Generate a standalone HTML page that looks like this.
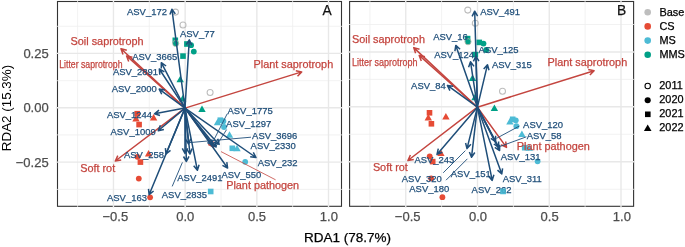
<!DOCTYPE html>
<html lang="en"><head><meta charset="utf-8"><title>RDA biplot</title>
<style>html,body{margin:0;padding:0;background:#fff}body{width:685px;height:247px;overflow:hidden}svg{display:block}svg text{font-family:"Liberation Sans",Arial,Helvetica,sans-serif}</style>
</head><body>
<svg width="685" height="247" viewBox="0 0 685 247">
<rect width="685" height="247" fill="#fff"/>
<rect x="57.5" y="1.5" width="284.00" height="204.80" fill="#fff" stroke="#333" stroke-width="1.1"/>
<line x1="77.6" y1="0.9" x2="77.6" y2="206.9" stroke="#efefef" stroke-width="0.8"/>
<line x1="149.3" y1="0.9" x2="149.3" y2="206.9" stroke="#efefef" stroke-width="0.8"/>
<line x1="221.0" y1="0.9" x2="221.0" y2="206.9" stroke="#efefef" stroke-width="0.8"/>
<line x1="292.65" y1="0.9" x2="292.65" y2="206.9" stroke="#efefef" stroke-width="0.8"/>
<line x1="56.9" y1="26.3" x2="342.1" y2="26.3" stroke="#efefef" stroke-width="0.8"/>
<line x1="56.9" y1="80.7" x2="342.1" y2="80.7" stroke="#efefef" stroke-width="0.8"/>
<line x1="56.9" y1="134.9" x2="342.1" y2="134.9" stroke="#efefef" stroke-width="0.8"/>
<line x1="56.9" y1="189.4" x2="342.1" y2="189.4" stroke="#efefef" stroke-width="0.8"/>
<line x1="113.45" y1="0.9" x2="113.45" y2="207.70000000000002" stroke="#e8e8e8" stroke-width="1.4"/>
<line x1="185.15" y1="0.9" x2="185.15" y2="207.70000000000002" stroke="#e8e8e8" stroke-width="1.4"/>
<line x1="256.85" y1="0.9" x2="256.85" y2="207.70000000000002" stroke="#e8e8e8" stroke-width="1.4"/>
<line x1="328.5" y1="0.9" x2="328.5" y2="207.70000000000002" stroke="#e8e8e8" stroke-width="1.4"/>
<line x1="55.9" y1="53.4" x2="342.1" y2="53.4" stroke="#e8e8e8" stroke-width="1.4"/>
<line x1="55.9" y1="107.8" x2="342.1" y2="107.8" stroke="#e8e8e8" stroke-width="1.4"/>
<line x1="55.9" y1="162.1" x2="342.1" y2="162.1" stroke="#e8e8e8" stroke-width="1.4"/>
<circle cx="175.5" cy="12.1" r="3.0" fill="none" stroke="#bdbdbd" stroke-width="1.05"/>
<circle cx="183.0" cy="25.0" r="3.0" fill="none" stroke="#bdbdbd" stroke-width="1.05"/>
<circle cx="210.1" cy="92.4" r="3.0" fill="none" stroke="#bdbdbd" stroke-width="1.05"/>
<rect x="172.5" y="37.5" width="5.6" height="5.6" fill="#00A087"/>
<rect x="184.1" y="41.2" width="5.6" height="5.6" fill="#00A087"/>
<rect x="180.2" y="53.3" width="5.6" height="5.6" fill="#00A087"/>
<circle cx="175.7" cy="43.4" r="2.9" fill="#00A087"/>
<circle cx="175.7" cy="43.4" r="3.1" fill="none" stroke="#a9b3a6" stroke-width="0.8"/>
<circle cx="191.1" cy="45.2" r="2.9" fill="#00A087"/>
<circle cx="193.8" cy="51.6" r="2.9" fill="#00A087"/>
<path d="M180.2 75.8L183.9 82.3L176.5 82.3Z" fill="#00A087"/>
<path d="M182.7 94.9L186.4 101.4L179.0 101.4Z" fill="#00A087"/>
<path d="M202.0 105.5L205.7 112.0L198.3 112.0Z" fill="#00A087"/>
<path d="M217.5 118.8L221.2 125.3L213.8 125.3Z" fill="#4DBBD5"/>
<rect x="217.5" y="117.4" width="5.6" height="5.6" fill="#4DBBD5"/>
<circle cx="223.4" cy="121.2" r="2.9" fill="#4DBBD5"/>
<circle cx="224.0" cy="127.0" r="2.9" fill="#4DBBD5"/>
<path d="M229.5 131.2L233.2 137.7L225.8 137.7Z" fill="#4DBBD5"/>
<rect x="229.5" y="145.5" width="5.6" height="5.6" fill="#4DBBD5"/>
<path d="M237.0 144.8L240.7 151.3L233.3 151.3Z" fill="#4DBBD5"/>
<circle cx="245.2" cy="161.8" r="2.9" fill="#4DBBD5"/>
<rect x="207.9" y="188.7" width="5.6" height="5.6" fill="#4DBBD5"/>
<rect x="134.4" y="110.9" width="5.6" height="5.6" fill="#E64B35"/>
<path d="M136.0 114.9L139.7 121.4L132.3 121.4Z" fill="#E64B35"/>
<path d="M153.6 113.9L157.3 120.4L149.9 120.4Z" fill="#E64B35"/>
<rect x="136.3" y="121.8" width="5.6" height="5.6" fill="#E64B35"/>
<path d="M148.6 150.1L152.3 156.6L144.9 156.6Z" fill="#E64B35"/>
<circle cx="137.4" cy="156.8" r="2.9" fill="#E64B35"/>
<rect x="137.6" y="159.3" width="5.6" height="5.6" fill="#E64B35"/>
<circle cx="138.8" cy="178.6" r="2.9" fill="#E64B35"/>
<circle cx="150.1" cy="197.3" r="2.9" fill="#E64B35"/>
<path d="M185.0 108.1L121.0 48.7M123.0 54.4L121.0 48.7L126.8 50.2" fill="none" stroke="#c4453f" stroke-width="1.5" stroke-linejoin="round" stroke-linecap="butt"/>
<path d="M185.0 108.1L126.6 55.9M128.7 61.5L126.6 55.9L132.4 57.3" fill="none" stroke="#c4453f" stroke-width="1.5" stroke-linejoin="round" stroke-linecap="butt"/>
<path d="M185.0 108.1L301.7 71.9M295.8 70.8L301.7 71.9L297.5 76.2" fill="none" stroke="#c4453f" stroke-width="1.5" stroke-linejoin="round" stroke-linecap="butt"/>
<path d="M185.0 108.1L115.3 161.0M121.2 160.0L115.3 161.0L117.8 155.6" fill="none" stroke="#c4453f" stroke-width="1.5" stroke-linejoin="round" stroke-linecap="butt"/>
<path d="M185.0 108.1L213.6 147.0M212.7 141.1L213.6 147.0L208.2 144.4" fill="none" stroke="#c4453f" stroke-width="1.5" stroke-linejoin="round" stroke-linecap="butt"/>
<path d="M185.0 108.1L171.9 9.2M169.9 14.6L171.9 9.2L175.3 13.9" fill="none" stroke="#1f4e79" stroke-width="1.5" stroke-linejoin="round" stroke-linecap="butt"/>
<path d="M185.0 108.1L189.3 39.8M186.3 44.7L189.3 39.8L191.7 45.1" fill="none" stroke="#1f4e79" stroke-width="1.5" stroke-linejoin="round" stroke-linecap="butt"/>
<path d="M185.0 108.1L161.3 62.7M161.3 68.5L161.3 62.7L166.1 66.0" fill="none" stroke="#1f4e79" stroke-width="1.5" stroke-linejoin="round" stroke-linecap="butt"/>
<path d="M185.0 108.1L159.3 69.0M159.8 74.8L159.3 69.0L164.4 71.8" fill="none" stroke="#1f4e79" stroke-width="1.5" stroke-linejoin="round" stroke-linecap="butt"/>
<path d="M185.0 108.1L159.2 89.1M161.7 94.3L159.2 89.1L164.9 89.9" fill="none" stroke="#1f4e79" stroke-width="1.5" stroke-linejoin="round" stroke-linecap="butt"/>
<path d="M185.0 108.1L154.5 113.8M160.0 115.5L154.5 113.8L159.0 110.2" fill="none" stroke="#1f4e79" stroke-width="1.5" stroke-linejoin="round" stroke-linecap="butt"/>
<path d="M185.0 108.1L158.2 130.7M163.9 129.5L158.2 130.7L160.4 125.3" fill="none" stroke="#1f4e79" stroke-width="1.5" stroke-linejoin="round" stroke-linecap="butt"/>
<path d="M185.0 108.1L166.0 154.0M170.5 150.3L166.0 154.0L165.4 148.2" fill="none" stroke="#1f4e79" stroke-width="1.5" stroke-linejoin="round" stroke-linecap="butt"/>
<path d="M185.0 108.1L149.1 194.7M153.6 191.0L149.1 194.7L148.5 188.9" fill="none" stroke="#1f4e79" stroke-width="1.5" stroke-linejoin="round" stroke-linecap="butt"/>
<path d="M185.0 108.1L186.4 161.5M189.0 156.3L186.4 161.5L183.5 156.5" fill="none" stroke="#1f4e79" stroke-width="1.5" stroke-linejoin="round" stroke-linecap="butt"/>
<path d="M185.0 108.1L197.4 170.3M199.1 164.7L197.4 170.3L193.7 165.8" fill="none" stroke="#1f4e79" stroke-width="1.5" stroke-linejoin="round" stroke-linecap="butt"/>
<path d="M185.0 108.1L227.6 168.0M226.8 162.2L227.6 168.0L222.4 165.4" fill="none" stroke="#1f4e79" stroke-width="1.5" stroke-linejoin="round" stroke-linecap="butt"/>
<path d="M185.0 108.1L256.0 157.5M253.3 152.3L256.0 157.5L250.2 156.8" fill="none" stroke="#1f4e79" stroke-width="1.5" stroke-linejoin="round" stroke-linecap="butt"/>
<path d="M185.0 108.1L212.6 145.0M211.7 139.3L212.6 145.0L207.4 142.5" fill="none" stroke="#1f4e79" stroke-width="1.5" stroke-linejoin="round" stroke-linecap="butt"/>
<path d="M185.0 108.1L216.2 147.0M215.1 141.3L216.2 147.0L210.9 144.7" fill="none" stroke="#1f4e79" stroke-width="1.5" stroke-linejoin="round" stroke-linecap="butt"/>
<path d="M185.0 108.1L219.2 144.4M217.7 138.8L219.2 144.4L213.7 142.5" fill="none" stroke="#1f4e79" stroke-width="1.5" stroke-linejoin="round" stroke-linecap="butt"/>
<path d="M185.0 108.1L188.6 144.0M190.8 138.6L188.6 144.0L185.4 139.2" fill="none" stroke="#1f4e79" stroke-width="1.5" stroke-linejoin="round" stroke-linecap="butt"/>
<path d="M185.0 108.1L185.0 153.5M187.7 148.4L185.0 153.5L182.3 148.4" fill="none" stroke="#1f4e79" stroke-width="1.5" stroke-linejoin="round" stroke-linecap="butt"/>
<path d="M185.0 108.1L190.0 154.0M192.1 148.6L190.0 154.0L186.7 149.2" fill="none" stroke="#1f4e79" stroke-width="1.5" stroke-linejoin="round" stroke-linecap="butt"/>
<line x1="227.2" y1="113.8" x2="214.2" y2="139.3" stroke="#1f4e79" stroke-width="0.9"/>
<line x1="226.6" y1="129.6" x2="216.2" y2="146.0" stroke="#1f4e79" stroke-width="0.9"/>
<line x1="251.0" y1="137.2" x2="189.6" y2="142.6" stroke="#1f4e79" stroke-width="0.9"/>
<line x1="182.4" y1="162.4" x2="172.2" y2="186.4" stroke="#1f4e79" stroke-width="0.9"/>
<text x="127.0" y="15.1" fill="#1f4e79" font-size="9.45" text-anchor="start" stroke="#1f4e79" stroke-width="0.25">ASV_172</text>
<text x="180.0" y="36.5" fill="#1f4e79" font-size="9.45" text-anchor="start" stroke="#1f4e79" stroke-width="0.25">ASV_77</text>
<text x="132.2" y="60.2" fill="#1f4e79" font-size="9.45" text-anchor="start" stroke="#1f4e79" stroke-width="0.25">ASV_3665</text>
<text x="112.9" y="74.8" fill="#1f4e79" font-size="9.45" text-anchor="start" stroke="#1f4e79" stroke-width="0.25">ASV_2891</text>
<text x="111.7" y="92.0" fill="#1f4e79" font-size="9.45" text-anchor="start" stroke="#1f4e79" stroke-width="0.25">ASV_2000</text>
<text x="106.9" y="118.0" fill="#1f4e79" font-size="9.45" text-anchor="start" stroke="#1f4e79" stroke-width="0.25">ASV_1244</text>
<text x="110.5" y="134.7" fill="#1f4e79" font-size="9.45" text-anchor="start" stroke="#1f4e79" stroke-width="0.25">ASV_1009</text>
<text x="124.0" y="158.0" fill="#1f4e79" font-size="9.45" text-anchor="start" stroke="#1f4e79" stroke-width="0.25">ASV_258</text>
<text x="107.0" y="200.8" fill="#1f4e79" font-size="9.45" text-anchor="start" stroke="#1f4e79" stroke-width="0.25">ASV_163</text>
<text x="161.8" y="197.7" fill="#1f4e79" font-size="9.45" text-anchor="start" stroke="#1f4e79" stroke-width="0.25">ASV_2835</text>
<text x="177.3" y="181.3" fill="#1f4e79" font-size="9.45" text-anchor="start" stroke="#1f4e79" stroke-width="0.25">ASV_2491</text>
<text x="221.4" y="178.4" fill="#1f4e79" font-size="9.45" text-anchor="start" stroke="#1f4e79" stroke-width="0.25">ASV_550</text>
<text x="257.7" y="166.3" fill="#1f4e79" font-size="9.45" text-anchor="start" stroke="#1f4e79" stroke-width="0.25">ASV_232</text>
<text x="250.6" y="149.1" fill="#1f4e79" font-size="9.45" text-anchor="start" stroke="#1f4e79" stroke-width="0.25">ASV_2330</text>
<text x="252.1" y="139.3" fill="#1f4e79" font-size="9.45" text-anchor="start" stroke="#1f4e79" stroke-width="0.25">ASV_3696</text>
<text x="226.1" y="126.8" fill="#1f4e79" font-size="9.45" text-anchor="start" stroke="#1f4e79" stroke-width="0.25">ASV_1297</text>
<text x="227.5" y="113.9" fill="#1f4e79" font-size="9.45" text-anchor="start" stroke="#1f4e79" stroke-width="0.25">ASV_1775</text>
<line x1="221.0" y1="151.6" x2="275.6" y2="179.8" stroke="#c4453f" stroke-width="0.8"/>
<text x="70.6" y="45.3" fill="#c4453f" font-size="10.85" text-anchor="start" stroke="#c4453f" stroke-width="0.25">Soil saprotroph</text>
<text x="59.3" y="68.0" fill="#c4453f" font-size="10.85" text-anchor="start" textLength="63.2" lengthAdjust="spacingAndGlyphs" stroke="#c4453f" stroke-width="0.25">Litter saprotroph</text>
<text x="253.6" y="67.6" fill="#c4453f" font-size="10.85" text-anchor="start" stroke="#c4453f" stroke-width="0.25">Plant saprotroph</text>
<text x="80.2" y="171.7" fill="#c4453f" font-size="10.85" text-anchor="start" stroke="#c4453f" stroke-width="0.25">Soft rot</text>
<text x="226.2" y="188.8" fill="#c4453f" font-size="10.85" text-anchor="start" stroke="#c4453f" stroke-width="0.25">Plant pathogen</text>
<text x="327.1" y="15.2" fill="#111" font-size="13.8" text-anchor="middle" stroke="#111" stroke-width="0.25">A</text>
<rect x="349.6" y="1.5" width="284.00" height="204.80" fill="#fff" stroke="#333" stroke-width="1.1"/>
<line x1="369.9" y1="0.9" x2="369.9" y2="206.9" stroke="#efefef" stroke-width="0.8"/>
<line x1="441.6" y1="0.9" x2="441.6" y2="206.9" stroke="#efefef" stroke-width="0.8"/>
<line x1="513.4" y1="0.9" x2="513.4" y2="206.9" stroke="#efefef" stroke-width="0.8"/>
<line x1="585.1" y1="0.9" x2="585.1" y2="206.9" stroke="#efefef" stroke-width="0.8"/>
<line x1="349.0" y1="24.5" x2="634.2" y2="24.5" stroke="#efefef" stroke-width="0.8"/>
<line x1="349.0" y1="79.4" x2="634.2" y2="79.4" stroke="#efefef" stroke-width="0.8"/>
<line x1="349.0" y1="134.3" x2="634.2" y2="134.3" stroke="#efefef" stroke-width="0.8"/>
<line x1="349.0" y1="189.3" x2="634.2" y2="189.3" stroke="#efefef" stroke-width="0.8"/>
<line x1="405.75" y1="0.9" x2="405.75" y2="207.70000000000002" stroke="#e8e8e8" stroke-width="1.4"/>
<line x1="477.5" y1="0.9" x2="477.5" y2="207.70000000000002" stroke="#e8e8e8" stroke-width="1.4"/>
<line x1="549.25" y1="0.9" x2="549.25" y2="207.70000000000002" stroke="#e8e8e8" stroke-width="1.4"/>
<line x1="621.0" y1="0.9" x2="621.0" y2="207.70000000000002" stroke="#e8e8e8" stroke-width="1.4"/>
<line x1="348.0" y1="52.0" x2="634.2" y2="52.0" stroke="#e8e8e8" stroke-width="1.4"/>
<line x1="348.0" y1="106.8" x2="634.2" y2="106.8" stroke="#e8e8e8" stroke-width="1.4"/>
<line x1="348.0" y1="161.75" x2="634.2" y2="161.75" stroke="#e8e8e8" stroke-width="1.4"/>
<circle cx="467.8" cy="10.1" r="3.0" fill="none" stroke="#bdbdbd" stroke-width="1.05"/>
<circle cx="475.3" cy="23.2" r="3.0" fill="none" stroke="#bdbdbd" stroke-width="1.05"/>
<circle cx="502.5" cy="91.2" r="3.0" fill="none" stroke="#bdbdbd" stroke-width="1.05"/>
<rect x="464.8" y="35.8" width="5.6" height="5.6" fill="#00A087"/>
<rect x="476.5" y="39.6" width="5.6" height="5.6" fill="#00A087"/>
<rect x="472.5" y="51.8" width="5.6" height="5.6" fill="#00A087"/>
<circle cx="468.0" cy="41.7" r="2.9" fill="#00A087"/>
<circle cx="468.0" cy="41.7" r="3.1" fill="none" stroke="#a9b3a6" stroke-width="0.8"/>
<circle cx="483.5" cy="43.6" r="2.9" fill="#00A087"/>
<circle cx="486.2" cy="50.0" r="2.9" fill="#00A087"/>
<path d="M472.5 74.5L476.2 81.0L468.8 81.0Z" fill="#00A087"/>
<path d="M475.0 93.8L478.7 100.3L471.3 100.3Z" fill="#00A087"/>
<path d="M494.4 104.5L498.1 111.0L490.7 111.0Z" fill="#00A087"/>
<path d="M509.9 118.0L513.6 124.5L506.2 124.5Z" fill="#4DBBD5"/>
<rect x="509.9" y="116.5" width="5.6" height="5.6" fill="#4DBBD5"/>
<circle cx="515.8" cy="120.3" r="2.9" fill="#4DBBD5"/>
<circle cx="516.4" cy="126.2" r="2.9" fill="#4DBBD5"/>
<path d="M521.9 130.5L525.6 137.0L518.2 137.0Z" fill="#4DBBD5"/>
<rect x="521.9" y="144.9" width="5.6" height="5.6" fill="#4DBBD5"/>
<path d="M529.4 144.2L533.1 150.7L525.7 150.7Z" fill="#4DBBD5"/>
<circle cx="537.6" cy="161.3" r="2.9" fill="#4DBBD5"/>
<rect x="500.3" y="188.5" width="5.6" height="5.6" fill="#4DBBD5"/>
<rect x="426.7" y="110.0" width="5.6" height="5.6" fill="#E64B35"/>
<path d="M428.3 114.0L432.0 120.5L424.6 120.5Z" fill="#E64B35"/>
<path d="M445.9 113.0L449.6 119.5L442.2 119.5Z" fill="#E64B35"/>
<rect x="428.6" y="121.0" width="5.6" height="5.6" fill="#E64B35"/>
<path d="M440.9 149.6L444.6 156.1L437.2 156.1Z" fill="#E64B35"/>
<circle cx="429.7" cy="156.3" r="2.9" fill="#E64B35"/>
<rect x="429.9" y="158.8" width="5.6" height="5.6" fill="#E64B35"/>
<circle cx="431.1" cy="178.3" r="2.9" fill="#E64B35"/>
<circle cx="442.4" cy="197.2" r="2.9" fill="#E64B35"/>
<path d="M477.4 107.2L413.7 47.6M415.6 53.3L413.7 47.6L419.5 49.2" fill="none" stroke="#c4453f" stroke-width="1.5" stroke-linejoin="round" stroke-linecap="butt"/>
<path d="M477.4 107.2L419.2 55.4M421.3 61.0L419.2 55.4L425.0 56.8" fill="none" stroke="#c4453f" stroke-width="1.5" stroke-linejoin="round" stroke-linecap="butt"/>
<path d="M477.4 107.2L594.1 70.7M588.2 69.6L594.1 70.7L589.9 75.0" fill="none" stroke="#c4453f" stroke-width="1.5" stroke-linejoin="round" stroke-linecap="butt"/>
<path d="M477.4 107.2L407.9 160.5M413.8 159.5L407.9 160.5L410.4 155.0" fill="none" stroke="#c4453f" stroke-width="1.5" stroke-linejoin="round" stroke-linecap="butt"/>
<path d="M477.4 107.2L506.5 147.4M505.7 141.5L506.5 147.4L501.1 144.8" fill="none" stroke="#c4453f" stroke-width="1.5" stroke-linejoin="round" stroke-linecap="butt"/>
<path d="M477.4 107.2L474.7 11.2M472.1 16.4L474.7 11.2L477.6 16.2" fill="none" stroke="#1f4e79" stroke-width="1.5" stroke-linejoin="round" stroke-linecap="butt"/>
<path d="M477.4 107.2L455.8 45.4M454.9 51.1L455.8 45.4L460.1 49.3" fill="none" stroke="#1f4e79" stroke-width="1.5" stroke-linejoin="round" stroke-linecap="butt"/>
<path d="M477.4 107.2L470.5 61.7M468.6 67.2L470.5 61.7L474.0 66.4" fill="none" stroke="#1f4e79" stroke-width="1.5" stroke-linejoin="round" stroke-linecap="butt"/>
<path d="M477.4 107.2L476.0 56.2M473.4 61.4L476.0 56.2L478.9 61.2" fill="none" stroke="#1f4e79" stroke-width="1.5" stroke-linejoin="round" stroke-linecap="butt"/>
<path d="M477.4 107.2L487.5 64.7M483.7 69.1L487.5 64.7L489.0 70.3" fill="none" stroke="#1f4e79" stroke-width="1.5" stroke-linejoin="round" stroke-linecap="butt"/>
<path d="M477.4 107.2L447.4 85.4M449.9 90.6L447.4 85.4L453.1 86.2" fill="none" stroke="#1f4e79" stroke-width="1.5" stroke-linejoin="round" stroke-linecap="butt"/>
<path d="M477.4 107.2L437.0 154.4M442.4 152.3L437.0 154.4L438.3 148.7" fill="none" stroke="#1f4e79" stroke-width="1.5" stroke-linejoin="round" stroke-linecap="butt"/>
<path d="M477.4 107.2L467.0 148.6M470.9 144.3L467.0 148.6L465.6 143.0" fill="none" stroke="#1f4e79" stroke-width="1.5" stroke-linejoin="round" stroke-linecap="butt"/>
<path d="M477.4 107.2L471.5 157.3M474.8 152.5L471.5 157.3L469.4 151.9" fill="none" stroke="#1f4e79" stroke-width="1.5" stroke-linejoin="round" stroke-linecap="butt"/>
<path d="M477.4 107.2L492.2 180.4M493.9 174.8L492.2 180.4L488.5 175.9" fill="none" stroke="#1f4e79" stroke-width="1.5" stroke-linejoin="round" stroke-linecap="butt"/>
<path d="M477.4 107.2L501.8 174.0M502.6 168.3L501.8 174.0L497.5 170.1" fill="none" stroke="#1f4e79" stroke-width="1.5" stroke-linejoin="round" stroke-linecap="butt"/>
<path d="M477.4 107.2L495.6 141.6M495.6 135.8L495.6 141.6L490.8 138.3" fill="none" stroke="#1f4e79" stroke-width="1.5" stroke-linejoin="round" stroke-linecap="butt"/>
<path d="M477.4 107.2L498.6 147.2M498.6 141.4L498.6 147.2L493.8 144.0" fill="none" stroke="#1f4e79" stroke-width="1.5" stroke-linejoin="round" stroke-linecap="butt"/>
<path d="M477.4 107.2L499.6 150.6M499.7 144.8L499.6 150.6L494.8 147.3" fill="none" stroke="#1f4e79" stroke-width="1.5" stroke-linejoin="round" stroke-linecap="butt"/>
<line x1="465.4" y1="150.6" x2="443.2" y2="172.8" stroke="#1f4e79" stroke-width="0.9"/>
<line x1="467.4" y1="158.8" x2="446.0" y2="180.2" stroke="#1f4e79" stroke-width="0.9"/>
<line x1="519.4" y1="126.0" x2="496.4" y2="138.4" stroke="#1f4e79" stroke-width="0.9"/>
<line x1="526.4" y1="136.8" x2="500.2" y2="146.4" stroke="#1f4e79" stroke-width="0.9"/>
<text x="480.2" y="15.1" fill="#1f4e79" font-size="9.45" text-anchor="start" stroke="#1f4e79" stroke-width="0.25">ASV_491</text>
<text x="433.2" y="40.2" fill="#1f4e79" font-size="9.45" text-anchor="start" stroke="#1f4e79" stroke-width="0.25">ASV_16</text>
<text x="434.2" y="58.2" fill="#1f4e79" font-size="9.45" text-anchor="start" stroke="#1f4e79" stroke-width="0.25">ASV_124</text>
<text x="478.6" y="53.1" fill="#1f4e79" font-size="9.45" text-anchor="start" stroke="#1f4e79" stroke-width="0.25">ASV_125</text>
<text x="491.9" y="67.8" fill="#1f4e79" font-size="9.45" text-anchor="start" stroke="#1f4e79" stroke-width="0.25">ASV_315</text>
<text x="411.1" y="88.5" fill="#1f4e79" font-size="9.45" text-anchor="start" stroke="#1f4e79" stroke-width="0.25">ASV_84</text>
<text x="414.4" y="163.0" fill="#1f4e79" font-size="9.45" text-anchor="start" stroke="#1f4e79" stroke-width="0.25">ASV_243</text>
<text x="401.8" y="181.8" fill="#1f4e79" font-size="9.45" text-anchor="start" stroke="#1f4e79" stroke-width="0.25">ASV_320</text>
<text x="409.3" y="192.1" fill="#1f4e79" font-size="9.45" text-anchor="start" stroke="#1f4e79" stroke-width="0.25">ASV_180</text>
<text x="450.8" y="177.2" fill="#1f4e79" font-size="9.45" text-anchor="start" stroke="#1f4e79" stroke-width="0.25">ASV_151</text>
<text x="471.6" y="192.7" fill="#1f4e79" font-size="9.45" text-anchor="start" stroke="#1f4e79" stroke-width="0.25">ASV_262</text>
<text x="502.7" y="182.4" fill="#1f4e79" font-size="9.45" text-anchor="start" stroke="#1f4e79" stroke-width="0.25">ASV_311</text>
<text x="500.7" y="160.0" fill="#1f4e79" font-size="9.45" text-anchor="start" stroke="#1f4e79" stroke-width="0.25">ASV_131</text>
<text x="526.8" y="139.2" fill="#1f4e79" font-size="9.45" text-anchor="start" stroke="#1f4e79" stroke-width="0.25">ASV_58</text>
<text x="523.1" y="128.0" fill="#1f4e79" font-size="9.45" text-anchor="start" stroke="#1f4e79" stroke-width="0.25">ASV_120</text>
<text x="352.0" y="43.3" fill="#c4453f" font-size="10.85" text-anchor="start" stroke="#c4453f" stroke-width="0.25">Soil saprotroph</text>
<text x="352.0" y="65.8" fill="#c4453f" font-size="10.85" text-anchor="start" textLength="65.6" lengthAdjust="spacingAndGlyphs" stroke="#c4453f" stroke-width="0.25">Litter saprotroph</text>
<text x="547.6" y="65.5" fill="#c4453f" font-size="10.85" text-anchor="start" stroke="#c4453f" stroke-width="0.25">Plant saprotroph</text>
<text x="372.9" y="170.8" fill="#c4453f" font-size="10.85" text-anchor="start" stroke="#c4453f" stroke-width="0.25">Soft rot</text>
<text x="516.8" y="150.0" fill="#c4453f" font-size="10.85" text-anchor="start" stroke="#c4453f" stroke-width="0.25">Plant pathogen</text>
<text x="621.5" y="15.2" fill="#111" font-size="13.8" text-anchor="middle" stroke="#111" stroke-width="0.25">B</text>
<rect x="500.3" y="188.6" width="5.6" height="5.6" fill="#4DBBD5" opacity="0.8"/>
<text x="48.7" y="57.8" fill="#4d4d4d" font-size="13" text-anchor="end" stroke="#4d4d4d" stroke-width="0.25">0.25</text>
<text x="48.7" y="112.2" fill="#4d4d4d" font-size="13" text-anchor="end" stroke="#4d4d4d" stroke-width="0.25">0.00</text>
<text x="48.7" y="166.5" fill="#4d4d4d" font-size="13" text-anchor="end" stroke="#4d4d4d" stroke-width="0.25">−0.25</text>
<text x="115.3" y="221.3" fill="#4d4d4d" font-size="13" text-anchor="middle" stroke="#4d4d4d" stroke-width="0.25">−0.5</text>
<text x="185.3" y="221.3" fill="#4d4d4d" font-size="13" text-anchor="middle" stroke="#4d4d4d" stroke-width="0.25">0.0</text>
<text x="257.0" y="221.3" fill="#4d4d4d" font-size="13" text-anchor="middle" stroke="#4d4d4d" stroke-width="0.25">0.5</text>
<text x="328.9" y="221.3" fill="#4d4d4d" font-size="13" text-anchor="middle" stroke="#4d4d4d" stroke-width="0.25">1.0</text>
<text x="407.7" y="221.3" fill="#4d4d4d" font-size="13" text-anchor="middle" stroke="#4d4d4d" stroke-width="0.25">−0.5</text>
<text x="478.0" y="221.3" fill="#4d4d4d" font-size="13" text-anchor="middle" stroke="#4d4d4d" stroke-width="0.25">0.0</text>
<text x="549.6" y="221.3" fill="#4d4d4d" font-size="13" text-anchor="middle" stroke="#4d4d4d" stroke-width="0.25">0.5</text>
<text x="621.9" y="221.3" fill="#4d4d4d" font-size="13" text-anchor="middle" stroke="#4d4d4d" stroke-width="0.25">1.0</text>
<text x="347.6" y="242.1" fill="#000" font-size="13.5" text-anchor="middle" stroke="#000" stroke-width="0.25">RDA1 (78.7%)</text>
<text transform="translate(11.3 108) rotate(-90)" fill="#000" font-size="13.4" text-anchor="middle">RDA2 (15.3%)</text>
<circle cx="647.7" cy="12.3" r="3.3" fill="#bebebe"/>
<text x="659.4" y="15.6" fill="#000" font-size="10.9" text-anchor="start" stroke="#000" stroke-width="0.25">Base</text>
<circle cx="647.7" cy="26.4" r="3.3" fill="#E64B35"/>
<text x="659.4" y="29.7" fill="#000" font-size="10.9" text-anchor="start" stroke="#000" stroke-width="0.25">CS</text>
<circle cx="647.7" cy="40.6" r="3.3" fill="#4DBBD5"/>
<text x="659.4" y="43.9" fill="#000" font-size="10.9" text-anchor="start" stroke="#000" stroke-width="0.25">MS</text>
<circle cx="647.7" cy="54.8" r="3.3" fill="#00A087"/>
<text x="659.4" y="58.0" fill="#000" font-size="10.9" text-anchor="start" stroke="#000" stroke-width="0.25">MMS</text>
<circle cx="647.7" cy="86.0" r="2.7" fill="none" stroke="#000" stroke-width="1.05"/>
<text x="659.3" y="89.0" fill="#000" font-size="10.9" text-anchor="start" stroke="#000" stroke-width="0.25">2011</text>
<circle cx="647.7" cy="100.3" r="3.05" fill="#000"/>
<text x="659.3" y="103.2" fill="#000" font-size="10.9" text-anchor="start" stroke="#000" stroke-width="0.25">2020</text>
<rect x="645.0" y="111.5" width="5.6" height="5.6" fill="#000"/>
<text x="659.3" y="117.2" fill="#000" font-size="10.9" text-anchor="start" stroke="#000" stroke-width="0.25">2021</text>
<path d="M647.7 124.4L651.5 131.1L643.9 131.1Z" fill="#000"/>
<text x="659.3" y="131.4" fill="#000" font-size="10.9" text-anchor="start" stroke="#000" stroke-width="0.25">2022</text>
</svg></body></html>
